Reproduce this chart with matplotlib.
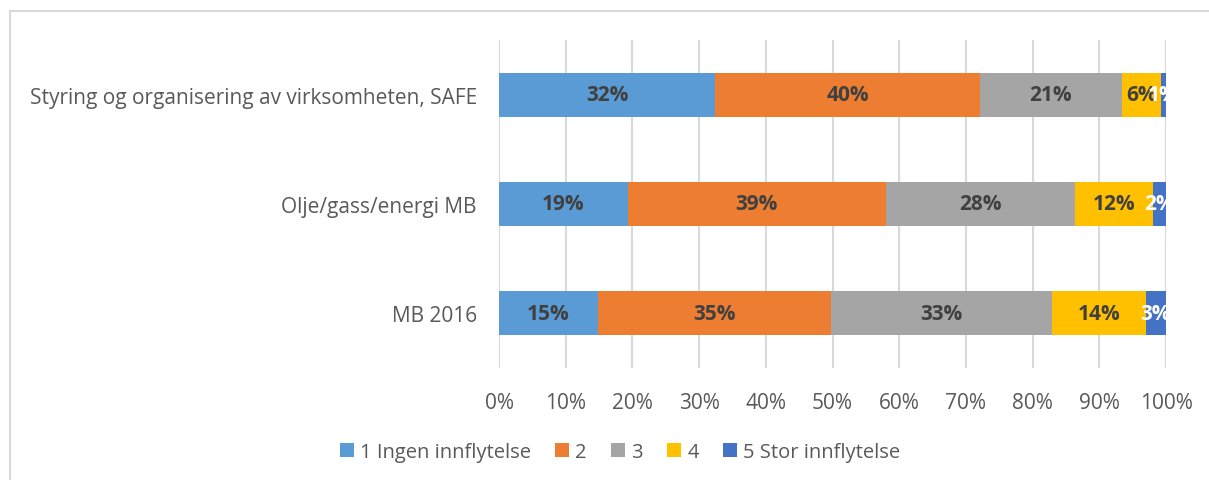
import matplotlib
matplotlib.use("Agg")
import matplotlib.pyplot as plt
from matplotlib.patches import Rectangle
import numpy as np

plt.rcParams['font.family'] = ['Open Sans', 'DejaVu Sans']

categories = ["Styring og organisering av virksomheten, SAFE", "Olje/gass/energi MB", "MB 2016"]
series_names = ["1 Ingen innflytelse", "2", "3", "4", "5 Stor innflytelse"]
values = {
    "1 Ingen innflytelse": [32.4, 19.3, 14.8],
    "2": [39.7, 38.7, 35.0],
    "3": [21.3, 28.3, 33.1],
    "4": [5.85, 11.8, 14.1],
    "5 Stor innflytelse": [0.75, 1.9, 3.0],
}
labels = {
    "1 Ingen innflytelse": ["32%", "19%", "15%"],
    "2": ["40%", "39%", "35%"],
    "3": ["21%", "28%", "33%"],
    "4": ["6%", "12%", "14%"],
    "5 Stor innflytelse": ["1%", "2%", "3%"],
}
colors = ["#5B9BD5", "#ED7D31", "#A5A5A5", "#FFC000", "#4472C4"]
label_colors = ["#404040", "#404040", "#404040", "#404040", "#FFFFFF"]
xticks = [0, 10, 20, 30, 40, 50, 60, 70, 80, 90, 100]

fig = plt.figure(figsize=(12.09, 4.81), dpi=100)
fig.patches.append(Rectangle((10/1209, -0.1), 1.2, (481-12)/481 + 0.1, transform=fig.transFigure,
                             fill=False, edgecolor="#D9D9D9", linewidth=1.5, zorder=0))
ax = fig.add_axes([499/1209, 1 - 369/481, (1166-499)/1209, (369-41)/481])

y = np.arange(len(categories))
left = np.zeros(len(categories))
for i, name in enumerate(series_names):
    v = np.array(values[name])
    bars = ax.barh(y, v, left=left, height=0.4, color=colors[i], label=name, zorder=3)
    for j, b in enumerate(bars):
        cx = left[j] + v[j] / 2
        ax.text(cx, y[j], labels[name][j], ha="center", va="center", fontsize=15,
                fontweight="bold", color=label_colors[i], zorder=4)
    left = left + v

ax.set_ylim(len(categories) - 0.5, -0.5)
ax.set_xlim(0, 100)
ax.set_yticks(y)
ax.set_yticklabels(categories, fontsize=15, color="#595959")
ax.set_xticks(xticks)
ax.set_xticklabels([f"{t}%" for t in xticks], fontsize=15, color="#595959")
ax.tick_params(axis="both", length=0)
ax.tick_params(axis="x", pad=17)
ax.tick_params(axis="y", pad=16)
ax.grid(axis="x", color="#D9D9D9", linewidth=1.5, zorder=0)
for s in ax.spines.values():
    s.set_visible(False)

ax.legend(loc="center", bbox_to_anchor=(620/1209, 1 - 453/481), bbox_transform=fig.transFigure,
          ncol=5, frameon=False, fontsize=14.5, handlelength=0.7, handleheight=0.7,
          columnspacing=1.2, handletextpad=0.3, labelcolor="#595959")

fig.savefig("out.png", dpi=100)
